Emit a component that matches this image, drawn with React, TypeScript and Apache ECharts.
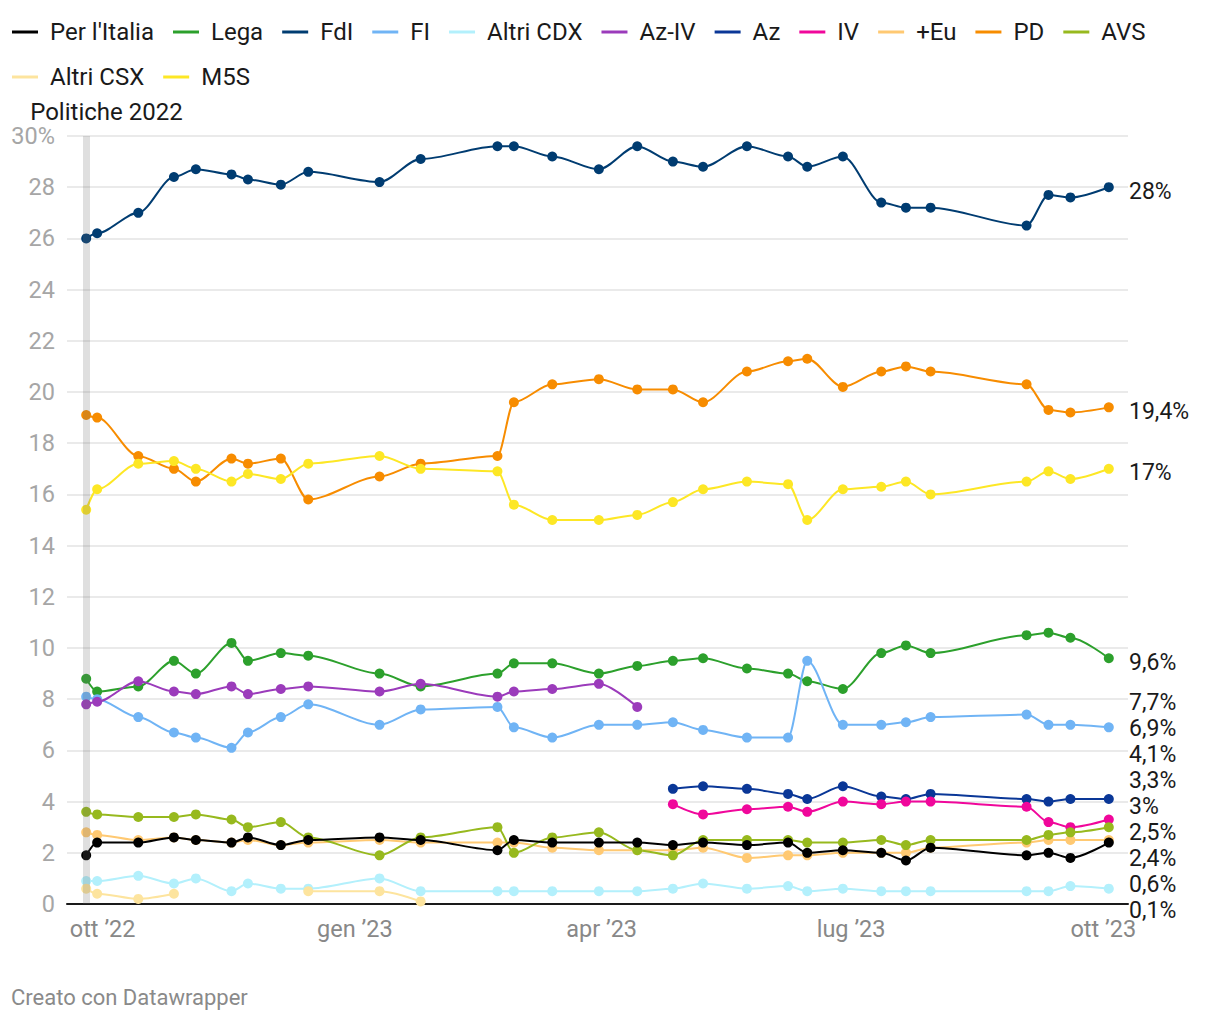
import React, { useEffect, useRef } from 'react';
import * as echarts from 'echarts';

// ---- data ----
const dates = [
  '2022-09-25', '2022-09-29', '2022-10-14', '2022-10-27', '2022-11-04', '2022-11-17', '2022-11-23',
  '2022-12-05', '2022-12-15', '2023-01-10', '2023-01-25', '2023-02-22', '2023-02-28', '2023-03-14',
  '2023-03-31', '2023-04-14', '2023-04-27', '2023-05-08', '2023-05-24', '2023-06-08', '2023-06-15',
  '2023-06-28', '2023-07-12', '2023-07-21', '2023-07-30', '2023-09-03', '2023-09-11', '2023-09-19',
  '2023-10-03',
];

const seriesNames = ["Per l'Italia", 'Lega', 'FdI', 'FI', 'Altri CDX', 'Az-IV', 'Az', 'IV', '+Eu', 'PD', 'AVS', 'Altri CSX', 'M5S'];
const seriesColors = ['#000000', '#2ca02c', '#003c71', '#70b4f5', '#b3f0fc', '#9b3bbb', '#0a3797', '#f0079b', '#ffc972', '#f78c00', '#97b91e', '#fde49e', '#fde725'];

const perItalia = [1.9, 2.4, 2.4, 2.6, 2.5, 2.4, 2.6, 2.3, 2.5, 2.6, 2.5, 2.1, 2.5, 2.4, 2.4, 2.4, 2.3, 2.4, 2.3, 2.4, 2.0, 2.1, 2.0, 1.7, 2.2, 1.9, 2.0, 1.8, 2.4];
const lega = [8.8, 8.3, 8.5, 9.5, 9.0, 10.2, 9.5, 9.8, 9.7, 9.0, 8.5, 9.0, 9.4, 9.4, 9.0, 9.3, 9.5, 9.6, 9.2, 9.0, 8.7, 8.4, 9.8, 10.1, 9.8, 10.5, 10.6, 10.4, 9.6];
const fdi = [26.0, 26.2, 27.0, 28.4, 28.7, 28.5, 28.3, 28.1, 28.6, 28.2, 29.1, 29.6, 29.6, 29.2, 28.7, 29.6, 29.0, 28.8, 29.6, 29.2, 28.8, 29.2, 27.4, 27.2, 27.2, 26.5, 27.7, 27.6, 28.0];
const fi = [8.1, 8.0, 7.3, 6.7, 6.5, 6.1, 6.7, 7.3, 7.8, 7.0, 7.6, 7.7, 6.9, 6.5, 7.0, 7.0, 7.1, 6.8, 6.5, 6.5, 9.5, 7.0, 7.0, 7.1, 7.3, 7.4, 7.0, 7.0, 6.9];
const altriCdx = [0.9, 0.9, 1.1, 0.8, 1.0, 0.5, 0.8, 0.6, 0.6, 1.0, 0.5, 0.5, 0.5, 0.5, 0.5, 0.5, 0.6, 0.8, 0.6, 0.7, 0.5, 0.6, 0.5, 0.5, 0.5, 0.5, 0.5, 0.7, 0.6];
const azIv = [7.8, 7.9, 8.7, 8.3, 8.2, 8.5, 8.2, 8.4, 8.5, 8.3, 8.6, 8.1, 8.3, 8.4, 8.6, 7.7, null, null, null, null, null, null, null, null, null, null, null, null, null];
const az = [null, null, null, null, null, null, null, null, null, null, null, null, null, null, null, null, 4.5, 4.6, 4.5, 4.3, 4.1, 4.6, 4.2, 4.1, 4.3, 4.1, 4.0, 4.1, 4.1];
const iv = [null, null, null, null, null, null, null, null, null, null, null, null, null, null, null, null, 3.9, 3.5, 3.7, 3.8, 3.6, 4.0, 3.9, 4.0, 4.0, 3.8, 3.2, 3.0, 3.3];
const piuEuropa = [2.8, 2.7, 2.5, 2.6, 2.5, 2.4, 2.5, 2.3, 2.4, 2.5, 2.4, 2.4, 2.4, 2.2, 2.1, 2.1, 2.1, 2.2, 1.8, 1.9, 1.9, 2.0, 2.0, 2.0, 2.2, 2.4, 2.5, 2.5, 2.5];
const pd = [19.1, 19.0, 17.5, 17.0, 16.5, 17.4, 17.2, 17.4, 15.8, 16.7, 17.2, 17.5, 19.6, 20.3, 20.5, 20.1, 20.1, 19.6, 20.8, 21.2, 21.3, 20.2, 20.8, 21.0, 20.8, 20.3, 19.3, 19.2, 19.4];
const avs = [3.6, 3.5, 3.4, 3.4, 3.5, 3.3, 3.0, 3.2, 2.6, 1.9, 2.6, 3.0, 2.0, 2.6, 2.8, 2.1, 1.9, 2.5, 2.5, 2.5, 2.4, 2.4, 2.5, 2.3, 2.5, 2.5, 2.7, 2.8, 3.0];
const altriCsx = [0.6, 0.4, 0.2, 0.4, null, null, null, null, 0.5, 0.5, 0.1, null, null, null, null, null, null, null, null, null, null, null, null, null, null, null, null, null, null];
const m5s = [15.4, 16.2, 17.2, 17.3, 17.0, 16.5, 16.8, 16.6, 17.2, 17.5, 17.0, 16.9, 15.6, 15.0, 15.0, 15.2, 15.7, 16.2, 16.5, 16.4, 15.0, 16.2, 16.3, 16.5, 16.0, 16.5, 16.9, 16.6, 17.0];

const seriesValues = [perItalia, lega, fdi, fi, altriCdx, azIv, az, iv, piuEuropa, pd, avs, altriCsx, m5s];

const electionDate = '2022-09-25';
const annotationText = 'Politiche 2022';
const xTickDates = ['2022-10-01', '2023-01-01', '2023-04-01', '2023-07-01', '2023-10-01'];
const xTickLabels = ['ott ’22', 'gen ’23', 'apr ’23', 'lug ’23', 'ott ’23'];
const xMinDate = '2022-09-18';
const xMaxDate = '2023-10-10';
const yMin = 0;
const yMax = 30;
const yStep = 2;
const creditText = 'Creato con Datawrapper';

const ts = (s: string) => {
  const [y, m, d] = s.split('-').map(Number);
  return Date.UTC(y, m - 1, d);
};

const fmtPct = (v: number) => (Number.isInteger(v) ? `${v}%` : `${v.toFixed(1).replace('.', ',')}%`);

export default function App() {
  const ref = useRef<HTMLDivElement>(null);

  useEffect(() => {
    const chart = echarts.init(ref.current!, null, { renderer: 'svg' });
    const font = 'Roboto, "Noto Sans", sans-serif';
    const tickTs = xTickDates.map(ts);

    const series: any[] = seriesNames.map((name, i) => ({
      name,
      type: 'line',
      data: dates.map((d, j) => [ts(d), seriesValues[i][j] === null ? '-' : seriesValues[i][j]]),
      smooth: 0.3,
      smoothMonotone: 'x',
      connectNulls: false,
      symbol: 'circle',
      symbolSize: 10,
      showSymbol: true,
      z: i === 0 ? 4 : 2,
      lineStyle: { color: seriesColors[i], width: 2 },
      itemStyle: { color: seriesColors[i] },
      emphasis: { disabled: true },
      silent: true,
    }));

    series.push({
      name: 'band',
      type: 'line',
      data: [],
      z: 10,
      silent: true,
      markLine: {
        silent: true,
        symbol: ['none', 'none'],
        label: { show: false },
        lineStyle: { color: 'rgba(110,110,110,0.22)', width: 7, type: 'solid' },
        emphasis: { disabled: true },
        data: [{ xAxis: ts(electionDate) }],
      },
    });

    chart.setOption({
      animation: false,
      textStyle: { fontFamily: font },
      legend: {
        data: seriesNames,
        icon: 'rect',
        itemWidth: 26,
        itemHeight: 3,
        itemGap: 19,
        left: 12,
        top: 19,
        padding: 0,
        width: 1195,
        selectedMode: false,
        textStyle: { fontSize: 24, lineHeight: 26, color: '#1a1a1a', fontFamily: font, padding: [0, 0, 0, 7] },
      },
      grid: { left: 67, right: 92, top: 136, bottom: 116 },
      xAxis: {
        type: 'value',
        min: ts(xMinDate),
        max: ts(xMaxDate),
        axisLine: { show: true, onZero: true, lineStyle: { color: '#1a1a1a', width: 2 } },
        axisTick: { show: false },
        splitLine: { show: false },
        axisLabel: {
          customValues: tickTs,
          formatter: (v: number) => {
            const idx = tickTs.findIndex((t) => Math.abs(t - v) < 43200000);
            return idx >= 0 ? xTickLabels[idx] : '';
          },
          color: '#888888',
          fontSize: 23.5,
          fontFamily: font,
          margin: 13,
        },
      },
      yAxis: {
        type: 'value',
        min: yMin,
        max: yMax,
        interval: yStep,
        axisLine: { show: false },
        axisTick: { show: false },
        splitLine: { lineStyle: { color: '#e3e3e3', width: 1.5 } },
        axisLabel: {
          formatter: (v: number) => (v === yMax ? `${v}%` : `${v}`),
          color: '#a6a6a6',
          fontSize: 23.5,
          fontFamily: font,
          margin: 12,
        },
      },
      series,
    });

    // End labels, placed from data via the chart's scales, then de-overlapped
    const items: { text: string; y: number }[] = [];
    seriesValues.forEach((vals) => {
      let last = -1;
      vals.forEach((v, j) => {
        if (v !== null && v !== undefined) last = j;
      });
      if (last < 0) return;
      const v = vals[last] as number;
      const py = chart.convertToPixel({ yAxisIndex: 0 }, v) as number;
      items.push({ text: fmtPct(v), y: py + 4 });
    });
    items.sort((a, b) => a.y - b.y);
    const gap = 26;
    const bottomLimit = 910;
    for (let it = 0; it < 400; it++) {
      for (let i = 1; i < items.length; i++) {
        const d = items[i].y - items[i - 1].y;
        if (d < gap) {
          const s = (gap - d) / 2;
          items[i - 1].y -= s;
          items[i].y += s;
        }
      }
      const lastItem = items[items.length - 1];
      if (lastItem.y > bottomLimit) {
        lastItem.y = bottomLimit;
      }
    }
    for (let i = items.length - 2; i >= 0; i--) {
      if (items[i + 1].y - items[i].y < gap) items[i].y = items[i + 1].y - gap;
    }

    const rightX = chart.convertToPixel({ xAxisIndex: 0 }, ts(xMaxDate)) as number;
    const bandX = chart.convertToPixel({ xAxisIndex: 0 }, ts(electionDate)) as number;

    const textStyle = (text: string, size: number, fill: string) => ({
      text,
      fontSize: size,
      fontFamily: font,
      fill,
      align: 'left',
      verticalAlign: 'middle',
      textAlign: 'left',
      textVerticalAlign: 'middle',
    });

    const graphics: any[] = items.map((it) => ({
      type: 'text',
      x: rightX + 1,
      y: it.y,
      silent: true,
      style: textStyle(it.text, 23, '#1a1a1a'),
    }));
    graphics.push({
      type: 'text',
      x: bandX - 56,
      y: 112,
      silent: true,
      style: textStyle(annotationText, 24, '#1a1a1a'),
    });
    graphics.push({
      type: 'text',
      x: 11,
      y: 997,
      silent: true,
      style: textStyle(creditText, 22, '#8a8a8a'),
    });
    chart.setOption({ graphic: graphics });

    return () => chart.dispose();
  }, []);

  return (
    <div
      ref={ref}
      style={{ position: 'absolute', left: 0, top: 0, width: 1220, height: 1020, background: '#ffffff' }}
    />
  );
}
